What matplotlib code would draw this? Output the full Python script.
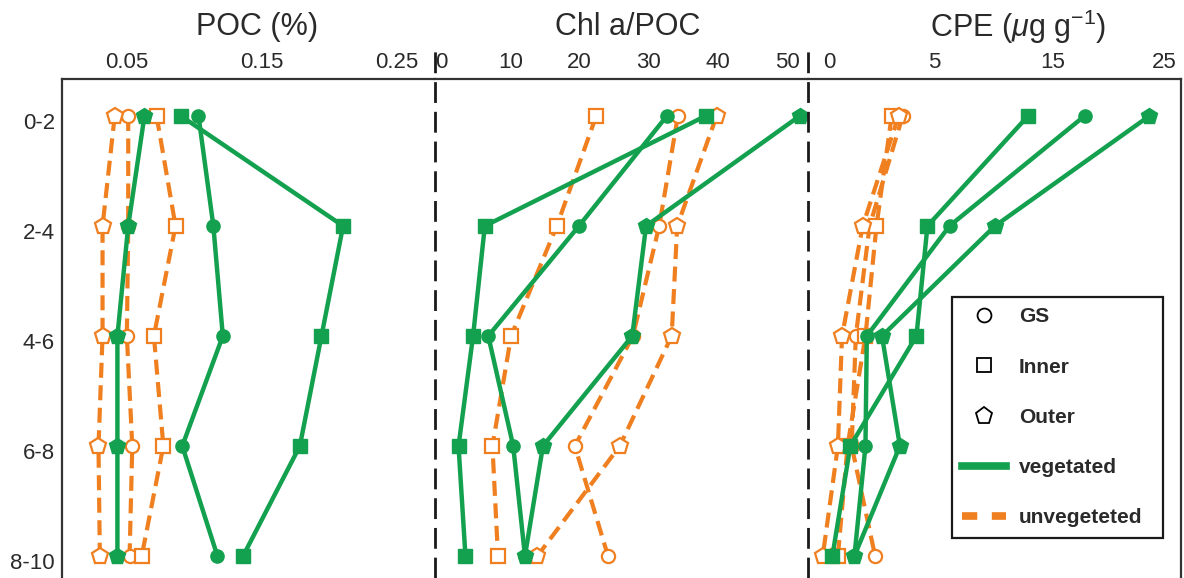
import matplotlib
matplotlib.use('Agg')
import matplotlib.pyplot as plt
from matplotlib.lines import Line2D
from matplotlib.transforms import ScaledTranslation

# fonts (Arial-like)
plt.rcParams['font.family'] = ['Liberation Sans', 'DejaVu Sans']
plt.rcParams['mathtext.fontset'] = 'custom'
plt.rcParams['mathtext.rm'] = 'Liberation Sans'
plt.rcParams['mathtext.it'] = 'Liberation Sans:italic'

# depth layers (cm)
depths = ['0-2', '2-4', '4-6', '6-8', '8-10']

# POC (%)
poc_gs_veg = [0.103, 0.114, 0.121, 0.091, 0.117]
poc_inner_veg = [0.090, 0.210, 0.194, 0.178, 0.136]
poc_outer_veg = [0.063, 0.051, 0.043, 0.043, 0.043]
poc_gs_unveg = [0.051, 0.051, 0.050, 0.054, 0.052]
poc_inner_unveg = [0.072, 0.086, 0.070, 0.077, 0.061]
poc_outer_unveg = [0.041, 0.032, 0.032, 0.029, 0.030]

# Chl a/POC
chl_gs_veg = [32.6, 19.9, 6.8, 10.4, 12.1]
chl_inner_veg = [38.2, 6.3, 4.6, 2.5, 3.5]
chl_outer_veg = [51.8, 29.6, 27.6, 14.7, 12.1]
chl_gs_unveg = [34.2, 31.5, 27.7, 19.3, 24.1]
chl_inner_unveg = [22.4, 16.7, 10.1, 7.4, 8.2]
chl_outer_unveg = [39.8, 34.1, 33.3, 25.8, 13.9]

# CPE (ug g-1)
cpe_gs_veg = [19.2, 9.4, 3.4, 3.3, 2.5]
cpe_inner_veg = [15.1, 7.8, 7.0, 2.2, 0.9]
cpe_outer_veg = [23.9, 12.7, 4.5, 5.8, 2.5]
cpe_gs_unveg = [6.0, 3.6, 2.6, 2.3, 4.0]
cpe_inner_unveg = [5.2, 4.1, 3.3, 2.0, 1.3]
cpe_outer_unveg = [5.7, 3.1, 1.6, 1.3, 0.2]

# panel titles and tick labels
titles = ['POC (%)', 'Chl a/POC', r'CPE ($\mu$g g$^{\mathregular{-1}}$)']
poc_ticks = [0.05, 0.15, 0.25]
chl_ticks = [0, 10, 20, 30, 40, 50]
cpe_ticks = [0.65, 8.3, 16.9, 25.0]
cpe_tick_labels = ['0', '5', '15', '25']

green = '#13a14f'
orange = '#ef7f1f'
txt = '#2a2a2a'

fig = plt.figure(figsize=(11.84, 5.78), dpi=100)
W, H = 1184, 578
axes = []
for left in [62, 435, 808]:
    ax = fig.add_axes([left / W, 0, 373 / W, 1 - 79 / H])
    axes.append(ax)

panels = [
    (axes[0], (0.002, 0.278), [poc_gs_unveg, poc_inner_unveg, poc_outer_unveg],
     [poc_gs_veg, poc_inner_veg, poc_outer_veg]),
    (axes[1], (-0.9, 53.0), [chl_gs_unveg, chl_inner_unveg, chl_outer_unveg],
     [chl_gs_veg, chl_inner_veg, chl_outer_veg]),
    (axes[2], (-0.87, 26.2), [cpe_gs_unveg, cpe_inner_unveg, cpe_outer_unveg],
     [cpe_gs_veg, cpe_inner_veg, cpe_outer_veg]),
]
markers = ['o', 's', 'p']
msizes = [9.5, 9.5, 12]
ypos = list(range(len(depths)))

for ax, xlim, unveg, veg in panels:
    # unvegetated: dashed orange, open markers
    for vals, m, ms in zip(unveg, markers, msizes):
        ax.plot(vals, ypos, color=orange, lw=3, ls=(0, (3.6, 1.8)), marker=m,
                ms=ms, mfc='white', mec=orange, mew=1.6, zorder=2)
    # vegetated: solid green, filled markers
    for vals, m, ms in zip(veg, markers, msizes):
        ax.plot(vals, ypos, color=green, lw=3.2, marker=m, ms=ms,
                mfc=green, mec=green, zorder=3)
    ax.set_xlim(*xlim)
    ax.set_ylim(4.2, -0.336)
    ax.xaxis.tick_top()
    ax.tick_params(length=0, labelsize=16, colors=txt, pad=4)
    for s in ['bottom', 'left', 'right']:
        ax.spines[s].set_visible(False)
    ax.spines['top'].set_linewidth(1.6)
    ax.spines['top'].set_color('#333333')
    ax.set_yticks(ypos)
    ax.set_yticklabels([])

axes[0].set_xticks(poc_ticks)
axes[0].set_xticklabels(['0.05', '0.15', '0.25'])
axes[1].set_xticks(chl_ticks)
axes[2].set_xticks(cpe_ticks)
axes[2].set_xticklabels(cpe_tick_labels)

# y axis: depth labels on the first panel
axes[0].spines['left'].set_visible(True)
axes[0].spines['left'].set_linewidth(1.6)
axes[0].spines['left'].set_color('#333333')
axes[0].set_yticklabels(depths)
axes[0].tick_params(axis='y', pad=5)
for lab in axes[0].get_yticklabels():
    lab.set_transform(lab.get_transform() + ScaledTranslation(0, -0.05, fig.dpi_scale_trans))
axes[2].spines['right'].set_visible(True)
axes[2].spines['right'].set_linewidth(1.6)
axes[2].spines['right'].set_color('#333333')

# dashed separators between panels
for ax in axes[1:]:
    ax.axvline(ax.get_xlim()[0], ymin=0, ymax=1.058, color='#1a1a1a', lw=2,
               ls=(0, (7.5, 3.2)), clip_on=False, zorder=5)

# titles
for t, xc in zip(titles, [257, 628, 1018]):
    fig.text(xc / W, 1 - 27 / H, t, ha='center', va='center', fontsize=22, color=txt)

# legend
handles = [
    Line2D([], [], ls='none', marker='o', ms=10, mfc='white', mec='black', mew=1.3, label='GS'),
    Line2D([], [], ls='none', marker='s', ms=9.5, mfc='white', mec='black', mew=1.3, label='Inner'),
    Line2D([], [], ls='none', marker='p', ms=12.5, mfc='white', mec='black', mew=1.3, label='Outer'),
    Line2D([], [], color=green, lw=5.5, label='vegetated'),
    Line2D([], [], color=orange, lw=5.5, ls=(0, (2, 1.9)), label='unvegeteted'),
]
leg = axes[2].legend(handles=handles, loc='upper left',
                     bbox_to_anchor=(952 / W, 1 - 563 / H, 211 / W, (563 - 297) / H),
                     bbox_transform=fig.transFigure, mode='expand',
                     prop={'weight': 'bold', 'size': 15}, frameon=True, fancybox=False,
                     framealpha=1, edgecolor='#1a1a1a', borderpad=0.5, labelspacing=1.5,
                     handlelength=2.1, handletextpad=0.6, borderaxespad=0)
leg.get_frame().set_linewidth(1.6)
for t in leg.get_texts():
    t.set_color(txt)

fig.savefig('out.png', dpi=100)
